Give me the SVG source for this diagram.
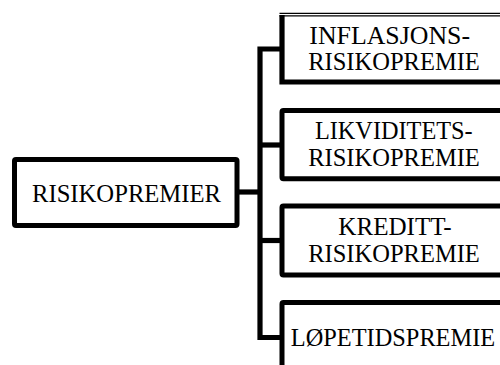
<svg xmlns="http://www.w3.org/2000/svg" width="500" height="365" viewBox="0 0 500 365">
<style>
.box{fill:#fff;stroke:#000;stroke-width:5;stroke-linejoin:round}
.conn{fill:none;stroke:#000;stroke-width:5.2;stroke-linejoin:miter}
.thin{stroke:#000;stroke-width:1.3}
text{font-family:"Liberation Serif","Times New Roman",serif;font-size:26px;fill:#000;text-anchor:middle}
</style>
<rect width="500" height="365" fill="#fff"/>
<g id="connectors">
<path class="conn" d="M239 192 H260"/>
<path class="conn" d="M282 49 H260 V337.5 H282"/>
<path class="conn" d="M260 145 H282"/>
<path class="conn" d="M260 240.5 H282"/>
</g>
<g id="risikopremier">
<rect class="box" x="14.5" y="159.5" width="222.5" height="66" rx="1.5"/>
<text x="126.5" y="202" textLength="189" lengthAdjust="spacingAndGlyphs">RISIKOPREMIER</text>
</g>
<g id="inflasjon">
<rect x="282" y="15.7" width="230" height="66.3" fill="#fff"/>
<line class="thin" x1="279.5" y1="13.3" x2="500" y2="13.3"/>
<line class="thin" x1="279.5" y1="15.8" x2="500" y2="15.8"/>
<path class="conn" d="M282 15 V82 H512"/>
<text x="389.7" y="43.5" textLength="160.7" lengthAdjust="spacingAndGlyphs">INFLASJONS-</text>
<text x="394" y="69.5" textLength="171.7" lengthAdjust="spacingAndGlyphs">RISIKOPREMIE</text>
</g>
<g id="likviditet">
<rect class="box" x="282" y="110.5" width="230" height="68.2" rx="1.5"/>
<text x="393.8" y="139" textLength="157.7" lengthAdjust="spacingAndGlyphs">LIKVIDITETS-</text>
<text x="394" y="165.6" textLength="171.7" lengthAdjust="spacingAndGlyphs">RISIKOPREMIE</text>
</g>
<g id="kreditt">
<rect class="box" x="282" y="206" width="230" height="69" rx="1.5"/>
<text x="395" y="235.3" textLength="113.3" lengthAdjust="spacingAndGlyphs">KREDITT-</text>
<text x="394" y="261.6" textLength="171.7" lengthAdjust="spacingAndGlyphs">RISIKOPREMIE</text>
</g>
<g id="lopetid">
<rect class="box" x="282" y="302.5" width="230" height="70" rx="1.5"/>
<text x="393" y="346" textLength="204.3" lengthAdjust="spacingAndGlyphs">LØPETIDSPREMIE</text>
</g>
</svg>
